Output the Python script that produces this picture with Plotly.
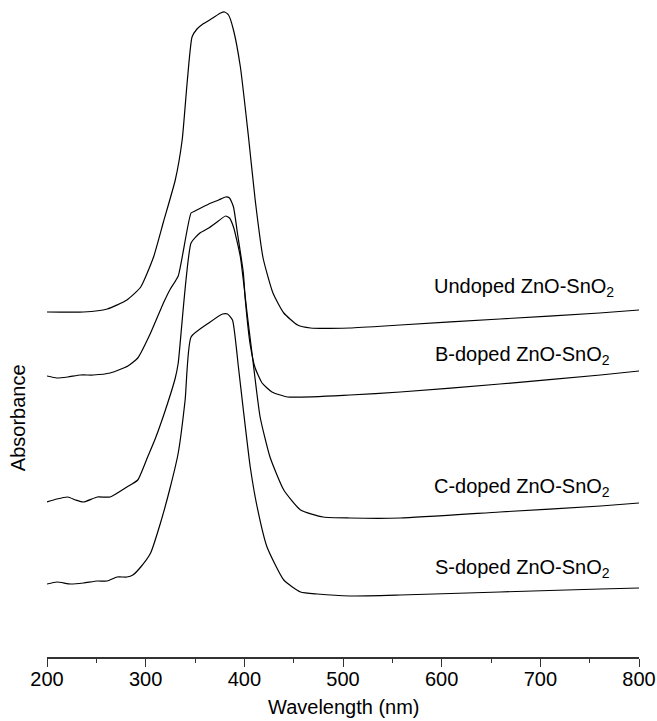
import plotly.graph_objects as go

# ---- data ----
wl_undoped = [200, 237, 261, 281, 295, 308, 318, 330, 337, 342, 347, 352, 358, 368, 376, 380, 384,
              389, 396, 404, 411, 419, 429, 440, 454, 467, 507, 558, 659, 760, 800]
abs_undoped = [1.725, 1.725, 1.74, 1.785, 1.85, 2.0, 2.175, 2.385, 2.585, 2.87, 3.10, 3.14, 3.165,
               3.195, 3.22, 3.225, 3.21, 3.135, 2.95, 2.61, 2.285, 1.995, 1.82, 1.72, 1.66, 1.645,
               1.645, 1.66, 1.69, 1.72, 1.735]

wl_b = [200, 210, 221, 234, 247, 264, 282, 292, 305, 318, 325, 333, 346, 350, 364, 374, 381, 385,
        389, 393, 399, 401, 406, 411, 418, 428, 444, 507, 558, 659, 761, 800]
abs_b = [1.405, 1.395, 1.40, 1.41, 1.41, 1.42, 1.455, 1.495, 1.62, 1.77, 1.84, 1.905, 2.22, 2.23,
         2.265, 2.285, 2.30, 2.295, 2.25, 2.12, 1.92, 1.785, 1.56, 1.445, 1.37, 1.325, 1.30, 1.31,
         1.325, 1.365, 1.41, 1.43]

wl_c = [200, 210, 221, 229, 237, 251, 264, 281, 292, 302, 310, 320, 330, 333, 346, 355, 364, 371,
        381, 385, 389, 396, 403, 408, 416, 426, 440, 457, 480, 507, 558, 659, 761, 800]
abs_c = [0.775, 0.79, 0.80, 0.785, 0.775, 0.80, 0.80, 0.85, 0.885, 1.00, 1.095, 1.235, 1.395, 1.47,
         2.07, 2.12, 2.145, 2.17, 2.205, 2.195, 2.15, 2.00, 1.71, 1.51, 1.20, 1.00, 0.835, 0.735,
         0.70, 0.695, 0.695, 0.725, 0.755, 0.77]

wl_s = [200, 210, 224, 237, 251, 261, 271, 281, 287, 295, 305, 315, 325, 333, 340, 346, 364, 378,
        383, 388, 394, 399, 406, 413, 423, 440, 457, 474, 507, 558, 659, 761, 800]
abs_s = [0.365, 0.375, 0.365, 0.37, 0.38, 0.38, 0.40, 0.40, 0.41, 0.45, 0.52, 0.67, 0.85, 1.02,
         1.285, 1.60, 1.67, 1.715, 1.715, 1.685, 1.45, 1.235, 0.95, 0.75, 0.55, 0.385, 0.325,
         0.315, 0.305, 0.31, 0.325, 0.34, 0.345]

series = [
    ("Undoped ZnO-SnO<sub>2</sub>", wl_undoped, abs_undoped),
    ("B-doped ZnO-SnO<sub>2</sub>", wl_b, abs_b),
    ("C-doped ZnO-SnO<sub>2</sub>", wl_c, abs_c),
    ("S-doped ZnO-SnO<sub>2</sub>", wl_s, abs_s),
]
label_x = [590, 591, 590, 591]
label_y = [1.85, 1.51, 0.85, 0.445]
x_ticks = [200, 300, 400, 500, 600, 700, 800]

FONT = "Liberation Sans, Arial, Helvetica, sans-serif"
FS = 20

fig = go.Figure()
for name, x, y in series:
    fig.add_trace(go.Scatter(x=x, y=y, mode="lines", name=name,
                             line=dict(color="black", width=1.2, shape="spline", smoothing=0.5),
                             showlegend=False))

annotations = []
for (name, _, _), lx, ly in zip(series, label_x, label_y):
    annotations.append(dict(x=lx, y=ly, xref="x", yref="y", text=name, showarrow=False,
                            xanchor="left", yanchor="middle",
                            font=dict(family=FONT, size=FS, color="black")))
annotations.append(dict(x=-0.049, y=0.365, xref="paper", yref="paper", text="Absorbance",
                        textangle=-90, showarrow=False, xanchor="center", yanchor="middle",
                        font=dict(family=FONT, size=FS, color="black")))
annotations.append(dict(x=0.5017, y=-0.0761, xref="paper", yref="paper", text="Wavelength (nm)",
                        showarrow=False, xanchor="center", yanchor="middle",
                        font=dict(family=FONT, size=FS, color="black")))

fig.update_layout(
    width=657, height=721,
    margin=dict(l=47, r=18, t=0, b=64),
    paper_bgcolor="white", plot_bgcolor="white",
    annotations=annotations,
    xaxis=dict(range=[200, 800], tickvals=x_ticks, ticks="outside", ticklen=8, tickwidth=1.2,
               tickcolor="#333", showline=True, linecolor="#333", linewidth=1.5,
               showgrid=False, zeroline=False, ticklabelstandoff=-5,
               tickfont=dict(family=FONT, size=FS, color="black"),
               minor=dict(dtick=50, ticks="outside", ticklen=4, tickwidth=1.2, tickcolor="#333",
                          showgrid=False)),
    yaxis=dict(range=[0, 3.285], visible=False),
)

fig.write_html("out.html")
